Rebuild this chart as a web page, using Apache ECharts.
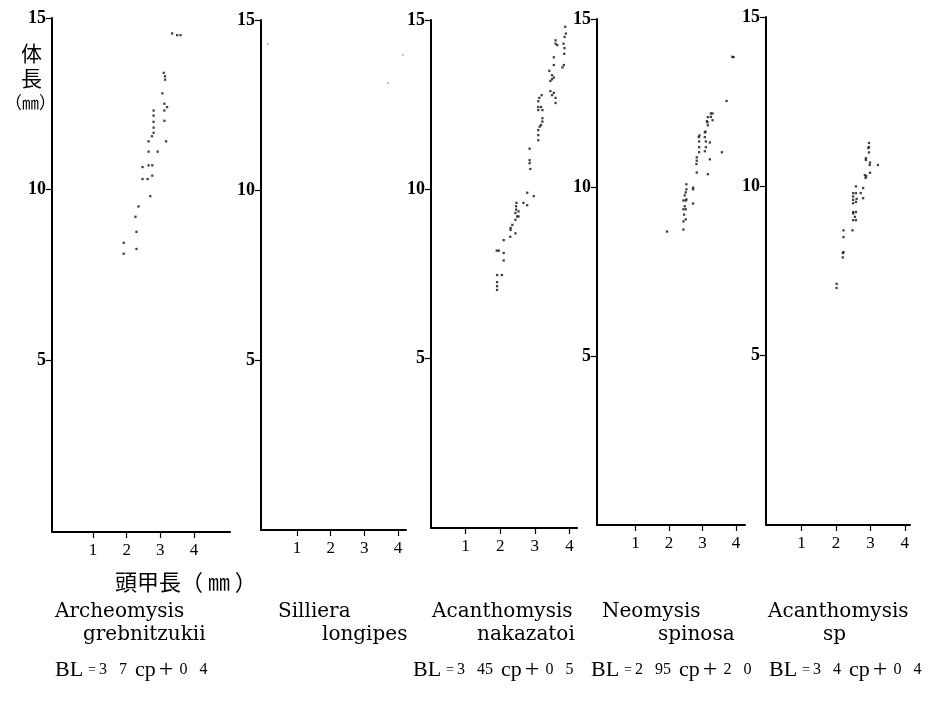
<!DOCTYPE html>
<html><head><meta charset="utf-8">
<script src="https://cdn.jsdelivr.net/npm/echarts@6/dist/echarts.min.js"></script>
<style>html,body{margin:0;padding:0;background:#fff}#c{width:947px;height:701px}</style>
</head><body><div id="c"></div>
<script>
// Tick labels
const xTickValues = [1, 2, 3, 4];
const yTickValues = [5, 10, 15];

// Species names and regression formulas
const speciesLine1 = ['Archeomysis', 'Silliera', 'Acanthomysis', 'Neomysis', 'Acanthomysis'];
const speciesLine2 = ['grebnitzukii', 'longipes', 'nakazatoi', 'spinosa', 'sp'];
const formulaSlope = ['3 7', '', '3 45', '2 95', '3 4'];
const formulaConst = ['0 4', '', '0 5', '2 0', '0 4'];

// Panel 1: Archeomysis grebnitzukii (carapace length cp, body length BL, mm)
const archeoCP = [1.91,1.91,2.29,2.29,2.26,2.35,2.7,2.47,2.62,2.76,2.47,2.65,2.76,2.65,2.92,2.65,2.75,2.8,2.8,2.8,2.8,2.8,3.17,3.12,3.12,3.12,3.2,3.06,3.14,3.14,3.1,3.35,3.5,3.6];
const archeoBL = [8.44,8.12,8.26,8.76,9.2,9.5,9.8,10.3,10.3,10.4,10.65,10.7,10.7,11.1,11.1,11.4,11.55,11.65,11.8,11.97,12.15,12.3,11.4,12.0,12.3,12.5,12.4,12.8,13.2,13.3,13.4,14.55,14.5,14.5];

// Panel 2: Silliera longipes (only faint specks)
const sillieraCP = [0.13, 3.7, 4.15];
const sillieraBL = [14.3, 13.15, 13.97];

// Panel 3: Acanthomysis nakazatoi
const nakazCP = [1.91,1.91,1.91,1.91,2.05,1.9,1.96,2.1,2.1,2.1,2.29,2.44,2.3,2.35,2.3,2.44,2.49,2.44,2.46,2.46,2.47,2.53,2.53,2.67,2.78,2.78,2.97,2.85,2.85,2.87,2.85,3.1,3.1,3.1,3.14,3.18,3.22,3.22,3.1,3.1,3.18,3.22,3.1,3.13,3.2,3.45,3.5,3.55,3.6,3.6,3.45,3.5,3.55,3.5,3.55,3.42,3.55,3.6,3.6,3.65,3.8,3.84,3.85,3.86,3.83,3.86,3.9,3.88];
const nakazBL = [7.26,7.14,7.03,7.47,7.47,8.19,8.19,8.12,7.9,8.5,8.6,8.7,8.8,8.95,8.86,9.1,9.2,9.3,9.4,9.5,9.6,9.2,9.35,9.6,9.53,9.9,9.8,10.86,10.77,10.6,11.2,11.45,11.6,11.75,11.85,11.9,12.0,12.1,12.34,12.43,12.43,12.34,12.6,12.7,12.78,12.9,12.78,12.85,12.7,12.55,13.2,13.25,13.3,13.37,13.67,13.5,13.9,14.3,14.4,14.26,13.6,13.67,14.0,14.17,14.3,14.5,14.6,14.8];

// Panel 4: Neomysis spinosa
const neoCP = [2.43,2.43,2.5,2.45,2.43,2.5,2.47,2.43,2.5,2.52,2.47,2.52,2.5,2.52,2.72,2.72,2.72,1.94,2.83,2.82,2.83,2.83,2.9,2.9,2.9,2.89,2.91,3.07,3.1,3.1,3.07,3.07,3.09,3.16,3.15,3.22,3.22,3.16,3.13,3.16,3.25,3.3,3.25,3.3,3.58,3.72,3.89,3.93];
const neoBL = [8.76,9.0,9.06,9.2,9.36,9.36,9.45,9.62,9.62,9.65,9.77,9.95,9.86,10.1,9.95,10.0,9.53,8.7,10.45,10.7,10.8,10.9,11.05,11.2,11.37,11.5,11.55,11.08,11.2,11.37,11.5,11.64,11.66,11.85,11.94,11.34,10.84,10.4,11.97,12.09,12.1,12.0,12.2,12.2,11.05,12.57,13.88,13.87];

// Panel 5: Acanthomysis sp
const spCP = [2.02,2.02,2.2,2.2,2.22,2.22,2.22,2.48,2.5,2.58,2.55,2.5,2.58,2.5,2.5,2.58,2.5,2.6,2.5,2.5,2.58,2.58,2.72,2.79,2.79,2.84,2.88,2.86,2.99,2.98,2.99,2.87,2.87,2.96,2.94,2.96,2.96,3.22];
const spBL = [7.12,7.0,8.03,7.9,8.06,8.5,8.7,8.7,9.0,9.0,9.1,9.2,9.24,9.24,9.5,9.54,9.6,9.63,9.7,9.8,9.8,10.0,9.8,9.65,9.95,10.33,10.3,10.25,10.4,10.63,10.7,10.78,10.83,11.0,11.13,11.16,11.28,10.63];

const panelsCP = [archeoCP, sillieraCP, nakazCP, neoCP, spCP];
const panelsBL = [archeoBL, sillieraBL, nakazBL, neoBL, spBL];

// layout (pixels) for each panel: y-axis x, right end, top (y=15), bottom (y=0), x-range
const layout = [
  {left: 52,  right: 230, top: 18, bottom: 532, xmin: -0.22, xmax: 5.07},
  {left: 261, right: 406, top: 20, bottom: 530, xmin: -0.07, xmax: 4.24},
  {left: 431, right: 577, top: 20, bottom: 528, xmin: 0.0,  xmax: 4.22},
  {left: 597, right: 745, top: 19, bottom: 525, xmin: -0.15, xmax: 4.27},
  {left: 766, right: 910, top: 17, bottom: 525, xmin: -0.03, xmax: 4.15}
];

const serif = '"Liberation Serif", "DejaVu Serif", serif';
const wideSerif = '"DejaVu Serif", "Liberation Serif", serif';
const cjk = '"Noto Sans CJK JP", sans-serif';

const grid = [], xAxis = [], yAxis = [], series = [];
layout.forEach((L, i) => {
  grid.push({left: L.left, top: L.top, width: L.right - L.left, height: L.bottom - L.top, containLabel: false});
  xAxis.push({
    type: 'value', gridIndex: i, min: L.xmin, max: L.xmax,
    axisLine: {show: true, onZero: false, lineStyle: {color: '#000', width: 2}},
    axisTick: {show: true, customValues: xTickValues, length: 6, lineStyle: {color: '#000', width: 1.2}},
    axisLabel: {customValues: xTickValues, color: '#000', fontFamily: serif, fontSize: 17, margin: 10},
    splitLine: {show: false}
  });
  yAxis.push({
    type: 'value', gridIndex: i, min: 0, max: 15,
    axisLine: {show: true, onZero: false, lineStyle: {color: '#000', width: 2}},
    axisTick: {show: true, customValues: yTickValues, length: 6, lineStyle: {color: '#000', width: 1.2}},
    axisLabel: {customValues: yTickValues, color: '#000', fontFamily: serif, fontSize: 18, fontWeight: 'bold', margin: 6},
    splitLine: {show: false}
  });
  series.push({
    type: 'scatter', xAxisIndex: i, yAxisIndex: i,
    symbol: 'rect', symbolSize: i === 1 ? [1.5, 1.5] : [2.3, 2.3],
    itemStyle: {color: i === 1 ? '#777' : '#111'},
    data: panelsCP[i].map((v, k) => [v, panelsBL[i][k]]),
    silent: true
  });
});

const nameStyle = {color: '#000', fontFamily: wideSerif, fontSize: 20, fontWeight: 'normal'};
const line1Pos = [50, 273, 427, 597, 763];
const line2Pos = [78, 317, 472, 653, 818];
const formulaPos = [50, null, 408, 586, 764];
const title = [];
speciesLine1.forEach((t, i) => title.push({text: t, left: line1Pos[i], top: 597, padding: 5, textStyle: nameStyle}));
speciesLine2.forEach((t, i) => title.push({text: t, left: line2Pos[i], top: 620, padding: 5, textStyle: nameStyle}));
const rb = {fontFamily: serif, color: '#000', fontWeight: 'normal'};
formulaSlope.forEach((s, i) => {
  if (!s) return;
  title.push({
    text: '{a|BL}{e|=}{n|' + s.replace(' ', '   ') + '}{c|cp}{p|+}{n|' + formulaConst[i].replace(' ', '   ') + '}',
    left: formulaPos[i], top: 652,
    textStyle: {fontWeight: 'normal', rich: {
      a: Object.assign({fontSize: 22}, rb),
      e: Object.assign({fontSize: 14, padding: [0, 3, 0, 5]}, rb),
      n: Object.assign({fontSize: 16}, rb),
      c: Object.assign({fontSize: 22, padding: [0, 0, 0, 8]}, rb),
      p: Object.assign({fontSize: 26, padding: [0, 6, 0, 3]}, rb)
    }}
  });
});
title.push({text: '体\n長', left: 16, top: 36, textStyle: {fontFamily: cjk, fontSize: 21, fontWeight: 'normal', color: '#000', lineHeight: 25}});
title.push({text: '（㎜）', left: 0, top: 89, textStyle: {fontFamily: cjk, fontSize: 17, fontWeight: 'normal', color: '#000'}});
title.push({text: '頭甲長（ ㎜ ）', left: 110, top: 566, textStyle: {fontFamily: cjk, fontSize: 22, fontWeight: 'normal', color: '#000'}});

const chart = echarts.init(document.getElementById('c'), null, {renderer: 'canvas'});
chart.setOption({backgroundColor: '#fff', animation: false, title, grid, xAxis, yAxis, series});
</script></body></html>
